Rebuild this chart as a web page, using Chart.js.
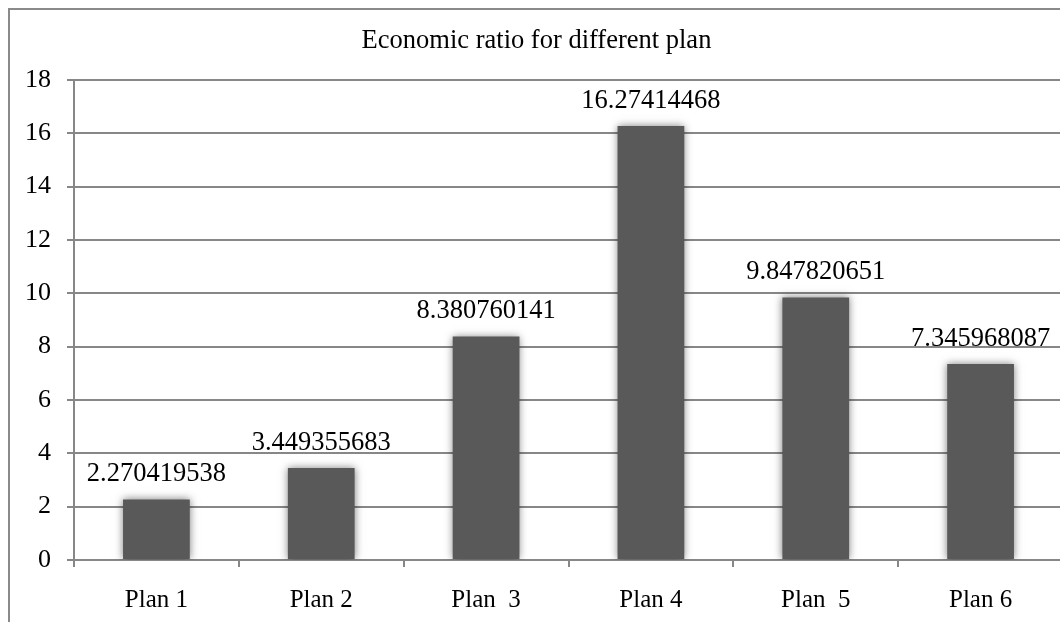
<!DOCTYPE html>
<html>
<head>
<meta charset="utf-8">
<script src="https://cdn.jsdelivr.net/npm/chart.js@4/dist/chart.umd.min.js"></script>
<style>
  html, body { margin: 0; padding: 0; background: #fff; }
  #page { position: relative; width: 1060px; height: 622px; overflow: hidden; background: #fff; }
  #frame { position: absolute; left: 8px; top: 8px; width: 1056px; height: 640px; border: 2px solid #8a8a8a; box-sizing: content-box; }
  canvas { display: block; }
</style>
</head>
<body>
<div id="page">
  <div id="frame"><canvas id="c" width="1056" height="640"></canvas></div>
</div>
<script>
const categories = ["Plan 1", "Plan 2", "Plan  3", "Plan 4", "Plan  5", "Plan 6"];
const ratios = [2.270419538, 3.449355683, 8.380760141, 16.27414468, 9.847820651, 7.345968087];
const ratioLabels = ["2.270419538", "3.449355683", "8.380760141", "16.27414468", "9.847820651", "7.345968087"];
const titleText = "Economic ratio for different plan";
const yMin = 0, yMax = 18, yStep = 2;

const FONT = "'Liberation Serif', 'Times New Roman', serif";
const GRID = "#878787";

const barShadow = {
  id: 'barShadow',
  beforeDatasetDraw(chart) {
    const ctx = chart.ctx;
    ctx.save();
    ctx.shadowColor = 'rgba(0,0,0,0.5)';
    ctx.shadowBlur = 8;
    ctx.shadowOffsetX = 0;
    ctx.shadowOffsetY = 0;
  },
  afterDatasetDraw(chart) {
    chart.ctx.restore();
  }
};

const valueLabels = {
  id: 'valueLabels',
  afterDatasetsDraw(chart) {
    const ctx = chart.ctx;
    const meta = chart.getDatasetMeta(0);
    ctx.save();
    ctx.font = "26.5px " + FONT;
    ctx.fillStyle = "#000";
    ctx.textAlign = "center";
    ctx.textBaseline = "middle";
    meta.data.forEach((bar, i) => {
      ctx.fillText(ratioLabels[i], bar.x, bar.y - 25);
    });
    ctx.restore();
  }
};

new Chart(document.getElementById('c'), {
  type: 'bar',
  data: {
    labels: categories,
    datasets: [{
      data: ratios,
      backgroundColor: '#595959',
      borderWidth: 0,
      barPercentage: 0.81,
      categoryPercentage: 0.5
    }]
  },
  options: {
    responsive: false,
    animation: false,
    events: [],
    layout: { padding: { left: 0, right: 3, top: 0, bottom: 0 } },
    plugins: {
      legend: { display: false },
      tooltip: { enabled: false },
      title: {
        display: true,
        text: titleText,
        color: '#000',
        font: { family: FONT, size: 26.5, weight: 'normal', lineHeight: 1.2 },
        padding: { top: 15, bottom: 23.2 }
      }
    },
    scales: {
      x: {
        grid: { display: true, drawOnChartArea: false, drawTicks: true, tickLength: 7, color: GRID, lineWidth: 2, offset: true },
        border: { display: true, color: GRID, width: 2 },
        ticks: { color: '#000', font: { family: FONT, size: 25 }, padding: 18, maxRotation: 0, autoSkip: false },
        afterFit(scale) { scale.height = 90; }
      },
      y: {
        min: yMin, max: yMax,
        grid: { color: GRID, lineWidth: 2, tickLength: 7 },
        border: { display: true, color: GRID, width: 2 },
        ticks: { stepSize: yStep, color: '#000', font: { family: FONT, size: 26 }, padding: 16 },
        afterFit(scale) { scale.width = 64; }
      }
    }
  },
  plugins: [barShadow, valueLabels]
});
</script>
</body>
</html>
